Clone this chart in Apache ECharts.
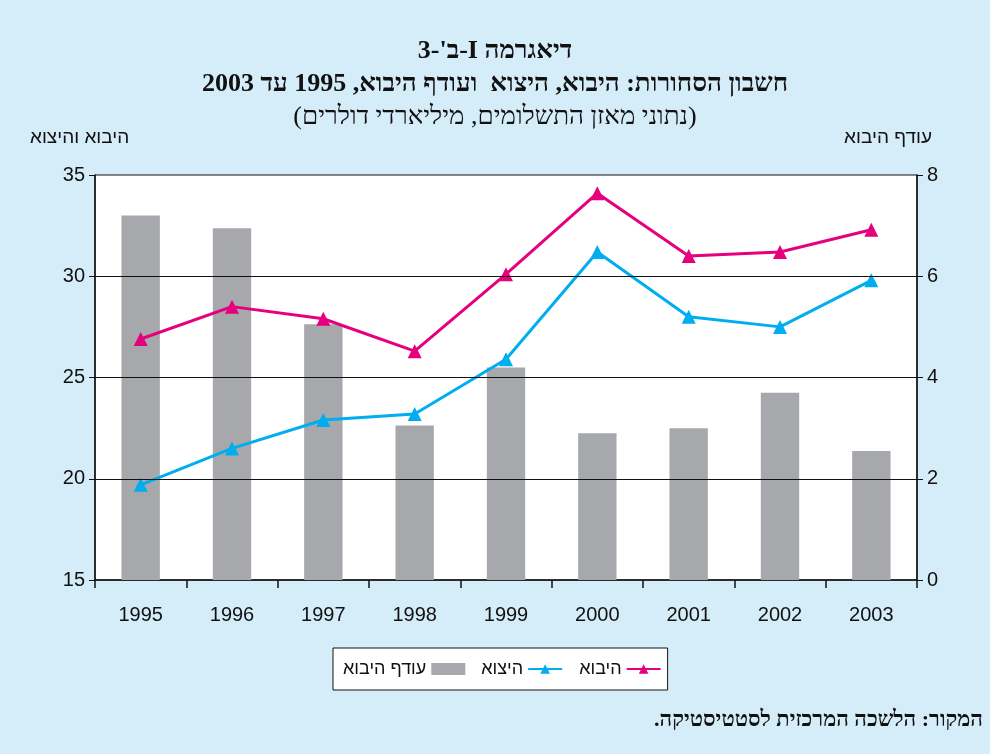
<!DOCTYPE html>
<html>
<head>
<meta charset="utf-8">
<script src="https://cdn.jsdelivr.net/npm/echarts@6/dist/echarts.min.js"></script>
<style>
  html, body { margin: 0; padding: 0; background: #d5ecf9; }
  #chart { width: 990px; height: 754px; }
</style>
</head>
<body>
<div id="chart"></div>
<script>
var years = ["1995", "1996", "1997", "1998", "1999", "2000", "2001", "2002", "2003"];
// imports (magenta), exports (cyan) - left axis
var imports = [26.9, 28.5, 27.9, 26.3, 30.1, 34.1, 31.0, 31.2, 32.3];
var exports = [19.7, 21.5, 22.9, 23.2, 25.9, 31.2, 28.0, 27.5, 29.8];
// import surplus (grey bars) - right axis
var surplus = [7.2, 6.95, 5.05, 3.05, 4.2, 2.9, 3.0, 3.7, 2.55];
var leftTicks = [20, 25, 30];

var heb = "Liberation Serif";
var sans = "Liberation Sans";

// wrap hebrew text in a right-to-left embedding so punctuation sits right
function rtl(s) { return "\u202B" + s + "\u202C"; }

var chart = echarts.init(document.getElementById("chart"));
chart.setOption({
    backgroundColor: "#d5ecf9",
    animation: false,
    title: [
        { text: rtl("דיאגרמה I-ב'-3"), left: "center", top: 33, textStyle: { fontFamily: heb, fontSize: 26, fontWeight: "bold", color: "#111" } },
        { text: rtl("חשבון הסחורות: היבוא, היצוא  ועודף היבוא, 1995 עד 2003"), left: "center", top: 66, textStyle: { fontFamily: heb, fontSize: 26, fontWeight: "bold", color: "#111" } },
        { text: rtl("(נתוני מאזן התשלומים, מיליארדי דולרים)"), left: "center", top: 99, textStyle: { fontFamily: heb, fontSize: 26, fontWeight: "normal", color: "#111" } }
    ],
    graphic: [
        { type: "text", left: 30, top: 128, style: { text: rtl("היבוא והיצוא"), font: "19px " + sans, fill: "#111" } },
        { type: "text", right: 58, top: 128, style: { text: rtl("עודף היבוא"), font: "19px " + sans, fill: "#111" } },
        { type: "text", right: 7, top: 709, style: { text: rtl("המקור: הלשכה המרכזית לסטטיסטיקה."), font: "bold 22px " + heb, fill: "#111" } }
    ],
    legend: {
        left: 333, top: 648,
        padding: [12, 6, 12, 10],
        itemGap: 16,
        align: "right",
        backgroundColor: "#fff",
        borderColor: "#111",
        borderWidth: 1,
        itemWidth: 34, itemHeight: 12,
        textStyle: { fontFamily: sans, fontSize: 18, color: "#111" },
        formatter: function (name) { return rtl(name); },
        data: [
            { name: "עודף היבוא", icon: "rect", itemStyle: { color: "#a7a8ab" } },
            { name: "היצוא" },
            { name: "היבוא" }
        ]
    },
    grid: {
        left: 95, right: 73, top: 175, bottom: 174,
        show: true, backgroundColor: "#fff", borderColor: "#111", borderWidth: 1
    },
    xAxis: {
        type: "category",
        data: years,
        boundaryGap: true,
        axisLine: { lineStyle: { color: "#111", width: 1.5 } },
        axisTick: { show: true, length: 8, lineStyle: { color: "#111", width: 1.5 } },
        axisLabel: { margin: 25, fontFamily: sans, fontSize: 20, color: "#111" }
    },
    yAxis: [
        {
            type: "value", min: 15, max: 35, interval: 5,
            axisLine: { show: true, lineStyle: { color: "#111", width: 1.5 } },
            axisTick: { show: true, length: 6, lineStyle: { color: "#111" } },
            axisLabel: { margin: 10, fontFamily: sans, fontSize: 20, color: "#111" },
            splitLine: { show: false }
        },
        {
            type: "value", min: 0, max: 8, interval: 2,
            axisLine: { show: true, lineStyle: { color: "#111", width: 1.5 } },
            axisTick: { show: true, length: 6, lineStyle: { color: "#111" } },
            axisLabel: { margin: 10, fontFamily: sans, fontSize: 20, color: "#111" },
            splitLine: { show: false }
        }
    ],
    series: [
        {
            name: "עודף היבוא", type: "bar", yAxisIndex: 1, data: surplus,
            barWidth: "42%", itemStyle: { color: "#a7a8ab" }, z: 1
        },
        {
            name: "gridlines", type: "line", yAxisIndex: 0, data: [], z: 2,
            silent: true,
            markLine: {
                symbol: "none", silent: true, label: { show: false },
                lineStyle: { color: "#111", width: 1, type: "solid" },
                data: leftTicks.map(function (v) { return { yAxis: v }; })
            }
        },
        {
            name: "היצוא", type: "line", yAxisIndex: 0, data: exports, z: 3,
            symbol: "triangle", symbolSize: 14,
            lineStyle: { color: "#00aeef", width: 3 },
            itemStyle: { color: "#00aeef" }
        },
        {
            name: "היבוא", type: "line", yAxisIndex: 0, data: imports, z: 4,
            symbol: "triangle", symbolSize: 14,
            lineStyle: { color: "#e6007e", width: 3 },
            itemStyle: { color: "#e6007e" }
        }
    ]
});
</script>
</body>
</html>
